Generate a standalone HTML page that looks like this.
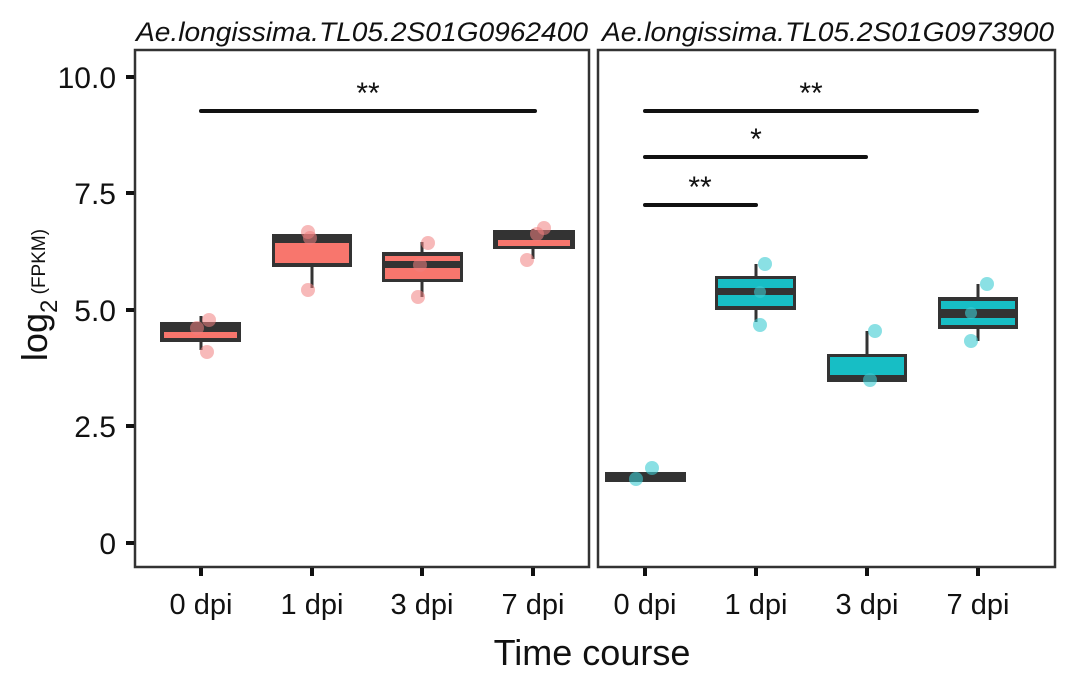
<!DOCTYPE html>
<html><head><style>body{margin:0;background:#fff}</style></head><body>
<svg width="1080" height="682" xmlns="http://www.w3.org/2000/svg" font-family="Liberation Sans, sans-serif">
<rect width="1080" height="682" fill="#fff"/>
<text x="362" y="41" font-size="27" font-style="italic" text-anchor="middle" fill="#111" textLength="452" lengthAdjust="spacingAndGlyphs">Ae.longissima.TL05.2S01G0962400</text>
<text x="828" y="41" font-size="27" font-style="italic" text-anchor="middle" fill="#111" textLength="452" lengthAdjust="spacingAndGlyphs">Ae.longissima.TL05.2S01G0973900</text>
<rect x="135" y="50" width="454" height="517" fill="none" stroke="#333" stroke-width="2.5"/>
<rect x="598" y="50" width="457" height="517" fill="none" stroke="#333" stroke-width="2.5"/>
<g font-size="30" fill="#111" text-anchor="end">
<text x="116" y="88">10.0</text><text x="116" y="204">7.5</text><text x="116" y="321">5.0</text><text x="116" y="437">2.5</text><text x="116" y="554">0</text>
</g>
<g stroke="#111" stroke-width="4">
<line x1="126" y1="77" x2="134" y2="77"/><line x1="126" y1="193" x2="134" y2="193"/><line x1="126" y1="310" x2="134" y2="310"/><line x1="126" y1="426" x2="134" y2="426"/><line x1="126" y1="543" x2="134" y2="543"/>
<line x1="201" y1="568" x2="201" y2="576"/><line x1="312" y1="568" x2="312" y2="576"/><line x1="422" y1="568" x2="422" y2="576"/><line x1="533" y1="568" x2="533" y2="576"/>
<line x1="645" y1="568" x2="645" y2="576"/><line x1="756" y1="568" x2="756" y2="576"/><line x1="867" y1="568" x2="867" y2="576"/><line x1="978" y1="568" x2="978" y2="576"/>
</g>
<g font-size="29" fill="#111" text-anchor="middle">
<text x="201" y="614">0 dpi</text><text x="312" y="614">1 dpi</text><text x="422" y="614">3 dpi</text><text x="533" y="614">7 dpi</text>
<text x="645" y="614">0 dpi</text><text x="756" y="614">1 dpi</text><text x="867" y="614">3 dpi</text><text x="978" y="614">7 dpi</text>
</g>
<text x="592" y="665" font-size="36" text-anchor="middle" fill="#111">Time course</text>
<text transform="translate(47,295) rotate(-90)" font-size="36" text-anchor="middle" fill="#111">log<tspan font-size="24" dy="10">2</tspan><tspan font-size="19" dy="-12"> (FPKM)</tspan></text>
<g stroke="#333" stroke-width="3">
<line x1="201" y1="316" x2="201" y2="350"/><line x1="312" y1="267" x2="312" y2="288"/><line x1="422" y1="242" x2="422" y2="297"/><line x1="533" y1="229" x2="533" y2="259"/>
<line x1="756" y1="264" x2="756" y2="322"/><line x1="867" y1="331" x2="867" y2="354"/><line x1="978" y1="284" x2="978" y2="341"/>
</g>
<rect x="160" y="322" width="81" height="20" fill="#333"/><rect x="164" y="332" width="73" height="6" fill="#f8766d"/>
<rect x="272" y="234" width="80" height="33" fill="#333"/><rect x="275" y="243" width="74" height="20" fill="#f8766d"/>
<rect x="382" y="252" width="81" height="30" fill="#333"/><rect x="385" y="256" width="75" height="5" fill="#f8766d"/><rect x="385" y="268" width="75" height="11" fill="#f8766d"/>
<rect x="493" y="230" width="82" height="19" fill="#333"/><rect x="498" y="240" width="72" height="6" fill="#f8766d"/>
<g fill="#f08080" fill-opacity="0.55">
<circle cx="207" cy="352" r="7"/><circle cx="209" cy="320" r="7"/><circle cx="197" cy="328" r="7"/>
<circle cx="308" cy="290" r="7"/><circle cx="308" cy="232" r="7"/><circle cx="310" cy="238" r="7"/>
<circle cx="428" cy="243" r="7"/><circle cx="418" cy="297" r="7"/><circle cx="420" cy="265" r="7"/>
<circle cx="544" cy="228" r="7"/><circle cx="527" cy="260" r="7"/><circle cx="537" cy="234" r="7"/>
</g>
<rect x="605" y="472" width="81" height="10" fill="#333"/>
<rect x="715" y="276" width="81" height="34" fill="#333"/><rect x="718" y="279" width="75" height="9" fill="#17bec5"/><rect x="718" y="295" width="75" height="11" fill="#17bec5"/>
<rect x="827" y="354" width="80" height="28" fill="#333"/><rect x="830" y="357" width="74" height="18" fill="#17bec5"/>
<rect x="938" y="297" width="80" height="32" fill="#333"/><rect x="941" y="301" width="74" height="8" fill="#17bec5"/><rect x="941" y="318" width="74" height="7" fill="#17bec5"/>
<g fill="#3ccbd2" fill-opacity="0.6">
<circle cx="636" cy="479" r="7"/><circle cx="652" cy="468" r="7"/>
<circle cx="765" cy="264" r="7"/><circle cx="760" cy="325" r="7"/><circle cx="760" cy="292" r="6"/>
<circle cx="875" cy="331" r="7"/><circle cx="870" cy="380" r="7"/>
<circle cx="987" cy="284" r="7"/><circle cx="971" cy="341" r="7"/><circle cx="971" cy="313" r="6"/>
</g>
<g stroke="#111" stroke-width="4" stroke-linecap="round">
<line x1="201" y1="111" x2="535" y2="111"/>
<line x1="645" y1="111" x2="977" y2="111"/>
<line x1="645" y1="157" x2="866" y2="157"/>
<line x1="645" y1="205" x2="756" y2="205"/>
</g>
<g font-size="30" fill="#111" text-anchor="middle">
<text x="368" y="103">**</text><text x="811" y="103">**</text><text x="756" y="149">*</text><text x="700" y="197">**</text>
</g>
</svg>
</body></html>
